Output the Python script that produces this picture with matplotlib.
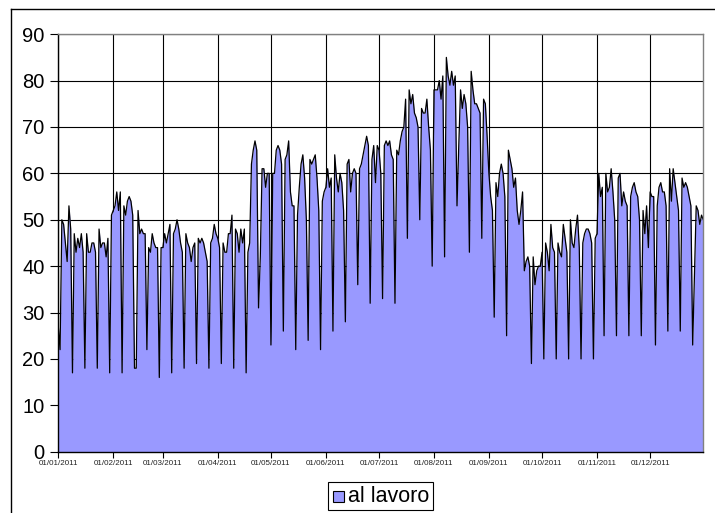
import numpy as np
import matplotlib
matplotlib.use("Agg")
import matplotlib.pyplot as plt
from matplotlib.patches import Rectangle
from matplotlib.lines import Line2D

plt.rcParams['font.family'] = ['Liberation Sans', 'DejaVu Sans']

series_name = "al lavoro"
year = 2011
month_labels = ["01/01/2011", "01/02/2011", "01/03/2011", "01/04/2011", "01/05/2011", "01/06/2011",
                "01/07/2011", "01/08/2011", "01/09/2011", "01/10/2011", "01/11/2011", "01/12/2011"]

jan = [27, 22, 50, 49, 45, 41, 53, 48, 17, 47, 43, 46, 44, 47, 43, 18, 47, 43, 43, 45, 45, 43, 18, 48, 44, 45, 45, 42, 46, 17, 51]
feb = [52, 53, 56, 52, 56, 17, 53, 51, 54, 55, 54, 51, 18, 18, 52, 47, 48, 47, 47, 22, 44, 43, 47, 45, 44, 44, 16, 44]
mar = [44, 47, 45, 47, 49, 17, 47, 48, 50, 48, 45, 43, 18, 47, 45, 44, 41, 44, 45, 19, 46, 45, 46, 45, 43, 41, 18, 45, 46, 49, 47]
apr = [46, 44, 19, 45, 43, 43, 47, 47, 51, 18, 48, 47, 43, 48, 45, 48, 17, 43, 45, 62, 65, 67, 65, 31, 42, 61, 61, 57, 60, 60]
may = [23, 60, 60, 65, 66, 65, 62, 26, 63, 64, 67, 56, 53, 53, 22, 51, 57, 62, 64, 59, 50, 24, 63, 62, 63, 64, 59, 52, 22, 54, 56]
jun = [57, 61, 57, 59, 26, 64, 59, 56, 60, 58, 52, 28, 62, 63, 56, 60, 61, 60, 36, 61, 62, 64, 66, 68, 66, 32, 63, 66, 58, 66]
jul = [65, 60, 33, 66, 67, 66, 67, 64, 63, 32, 65, 64, 67, 69, 70, 76, 46, 78, 75, 77, 73, 72, 70, 50, 74, 73, 73, 76, 70, 65, 40]
aug = [78, 78, 78, 80, 76, 81, 42, 85, 81, 79, 82, 79, 81, 53, 66, 78, 74, 77, 75, 70, 43, 82, 78, 75, 75, 74, 73, 46, 76, 75, 68]
sep = [60, 55, 52, 29, 58, 55, 60, 62, 60, 55, 25, 65, 63, 61, 57, 59, 52, 49, 52, 56, 39, 41, 42, 40, 19, 42, 36, 39, 40, 40]
oct_ = [43, 20, 45, 43, 39, 49, 44, 43, 20, 45, 43, 42, 49, 46, 43, 20, 50, 45, 44, 48, 51, 44, 20, 45, 47, 48, 48, 47, 45, 20, 46]
nov = [47, 60, 55, 57, 25, 60, 56, 57, 61, 56, 50, 25, 59, 60, 53, 56, 54, 53, 25, 55, 57, 58, 56, 55, 50, 25, 52, 47, 53, 44]
dec = [56, 55, 55, 23, 53, 57, 58, 56, 56, 53, 26, 61, 54, 61, 58, 55, 52, 26, 59, 57, 58, 57, 55, 53, 23, 38, 53, 52, 49, 51, 50]

values = np.array(jan + feb + mar + apr + may + jun + jul + aug + sep + oct_ + nov + dec, dtype=float)
dates = np.arange(np.datetime64(f"{year}-01-01"), np.datetime64(f"{year+1}-01-01"))
n = min(len(values), len(dates))
values = values[:n]
days = (dates[:n] - dates[0]).astype(int)

month_starts = np.array([np.datetime64(f"{year}-{m:02d}-01") for m in range(1, 13)])
month_pos = (month_starts - dates[0]).astype(int)

W, H = 715, 513
fig = plt.figure(figsize=(W / 100, H / 100), dpi=100)
ax = fig.add_axes([58.3 / W, 1 - 451.7 / H, (703.3 - 58.3) / W, (451.7 - 34.2) / H])

ax.fill_between(days, values, 0, color="#9999FF", linewidth=0, zorder=2)
ax.plot(days, values, color="black", linewidth=0.9, zorder=3)

ax.set_xlim(0, 364)
ax.set_ylim(0, 90)
ax.set_yticks(np.arange(0, 91, 10))
ax.set_xticks(month_pos)
ax.set_xticklabels(month_labels, fontsize=5.8, color="#222222")
ax.tick_params(axis='y', labelsize=14.5, length=6, width=0.8, pad=4, colors='black')
ax.tick_params(axis='x', length=4, width=0.8, pad=2)

ax.set_axisbelow(True)
ax.grid(True, color="black", linewidth=0.8)

for s in ["top", "right"]:
    ax.spines[s].set_color("#808080")
    ax.spines[s].set_linewidth(1.0)
for s in ["left", "bottom"]:
    ax.spines[s].set_color("black")
    ax.spines[s].set_linewidth(1.0)
for s in ax.spines.values():
    s.set_zorder(4)

# outer chart frame (partially visible)
fig.add_artist(Line2D([11 / W, 11 / W], [0, 1 - 9.3 / H], transform=fig.transFigure, color="black", linewidth=1.0))
fig.add_artist(Line2D([11 / W, 1], [1 - 9.3 / H, 1 - 9.3 / H], transform=fig.transFigure, color="black", linewidth=1.0))

# legend
fig.add_artist(Rectangle((328 / W, 1 - 510 / H), (433 - 328) / W, (510 - 482) / H,
                         transform=fig.transFigure, facecolor="white", edgecolor="black", linewidth=0.8))
fig.add_artist(Rectangle((333 / W, 1 - 501.5 / H), 11 / W, 11 / H,
                         transform=fig.transFigure, facecolor="#9999FF", edgecolor="black", linewidth=0.8))
fig.text(348 / W, 1 - 496 / H, series_name, fontsize=15.5, va="center", ha="left", color="black")

fig.savefig("out.png", dpi=100)
